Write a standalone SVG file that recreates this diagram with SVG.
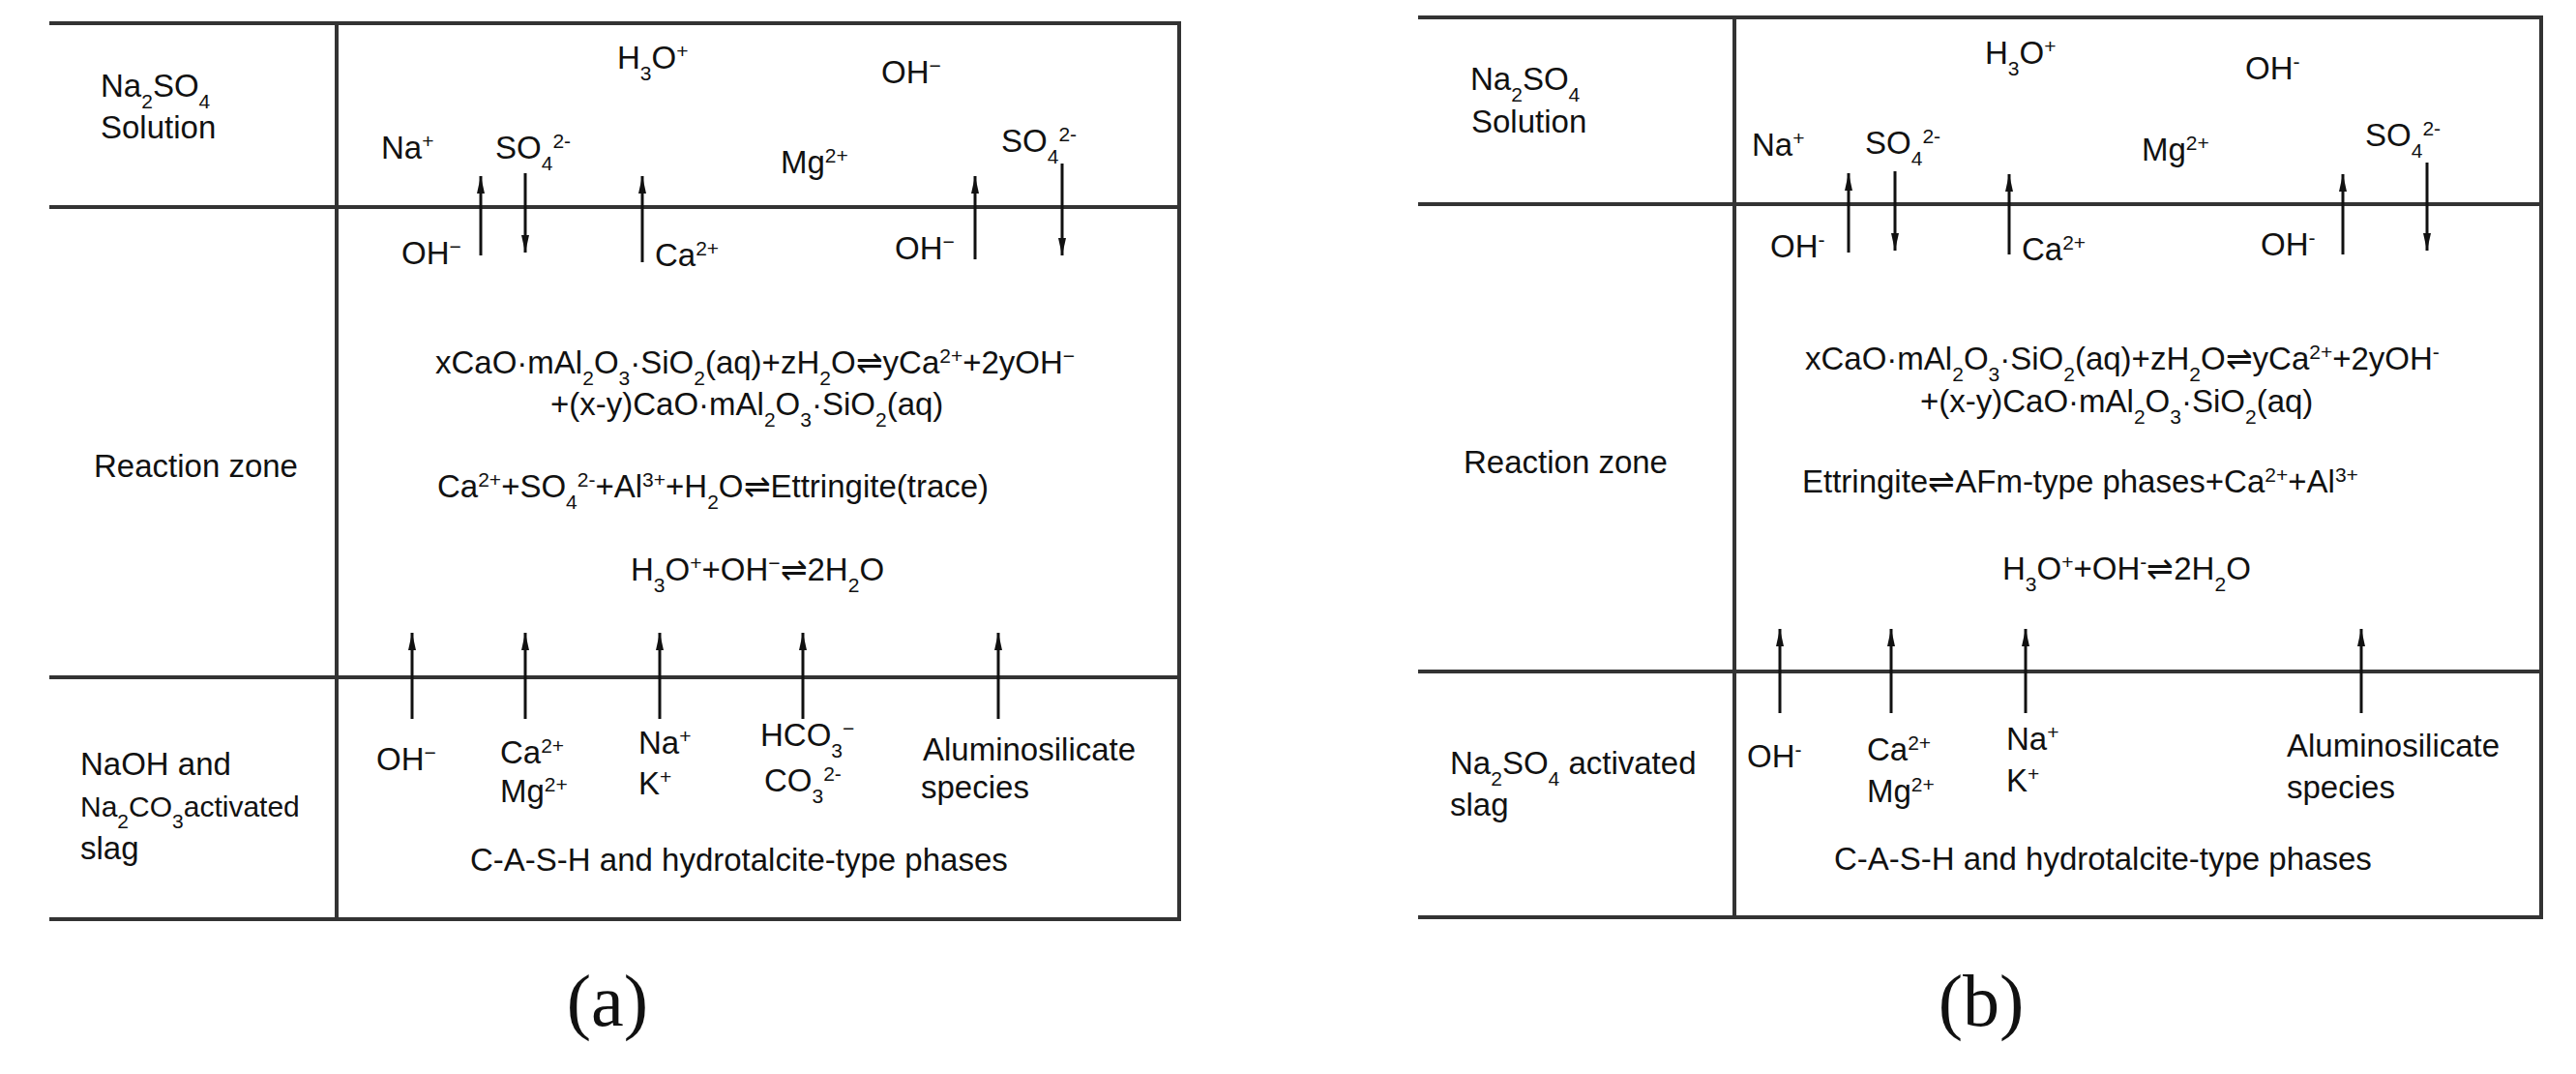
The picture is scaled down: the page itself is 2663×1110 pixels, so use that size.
<svg xmlns="http://www.w3.org/2000/svg" width="2663" height="1110" viewBox="0 0 2663 1110">
<style>
.ln{stroke:#333;stroke-width:4;fill:none}
.ar{stroke:#111;stroke-width:3;fill:none;marker-end:url(#ah)}
text{font-family:"Liberation Sans",Arial,sans-serif;font-size:33px;fill:#111}
.s{font-size:21px;baseline-shift:sub}
.p{font-size:21px;baseline-shift:super}
.cap{font-family:"Liberation Serif","Times New Roman",serif;font-size:76px;text-anchor:middle}
</style>
<defs>
<marker id="ah" viewBox="0 0 18 8" refX="18" refY="4" markerWidth="18" markerHeight="8" orient="auto" markerUnits="userSpaceOnUse"><path d="M0,0 L18,4 L0,8 Z" fill="#111"/></marker>
</defs>
<g id="frame-a">
<path class="ln" d="M51,24 H1219 V950 H51 M348,24 V950 M51,214 H1219 M51,700 H1219"/>
</g>
<g id="frame-b">
<path class="ln" d="M1466,18 H2627 V948 H1466 M1793,18 V948 M1466,211 H2627 M1466,694 H2627"/>
</g>
<g id="connectors">
<line class="ar" x1="497" y1="264" x2="497" y2="182"/>
<line class="ar" x1="543" y1="179" x2="543" y2="261"/>
<line class="ar" x1="664" y1="271" x2="664" y2="182"/>
<line class="ar" x1="1008" y1="268" x2="1008" y2="182"/>
<line class="ar" x1="1098" y1="169" x2="1098" y2="264"/>
<line class="ar" x1="426" y1="743" x2="426" y2="654"/>
<line class="ar" x1="543" y1="743" x2="543" y2="654"/>
<line class="ar" x1="682" y1="743" x2="682" y2="654"/>
<line class="ar" x1="830" y1="743" x2="830" y2="654"/>
<line class="ar" x1="1032" y1="743" x2="1032" y2="654"/>
<line class="ar" x1="1911" y1="261" x2="1911" y2="179"/>
<line class="ar" x1="1959" y1="177" x2="1959" y2="259"/>
<line class="ar" x1="2077" y1="263" x2="2077" y2="180"/>
<line class="ar" x1="2422" y1="263" x2="2422" y2="180"/>
<line class="ar" x1="2509" y1="168" x2="2509" y2="259"/>
<line class="ar" x1="1840" y1="737" x2="1840" y2="650"/>
<line class="ar" x1="1955" y1="737" x2="1955" y2="650"/>
<line class="ar" x1="2094" y1="737" x2="2094" y2="650"/>
<line class="ar" x1="2441" y1="737" x2="2441" y2="650"/>
</g>
<g id="panel-a-text">
<text x="104" y="100">Na<tspan class="s">2</tspan>SO<tspan class="s">4</tspan></text>
<text x="104" y="143">Solution</text>
<text x="638" y="71">H<tspan class="s">3</tspan>O<tspan class="p">+</tspan></text>
<text x="911" y="86">OH<tspan class="p">−</tspan></text>
<text x="394" y="164">Na<tspan class="p">+</tspan></text>
<text x="512" y="164">SO<tspan class="s">4</tspan><tspan class="p">2-</tspan></text>
<text x="807" y="179">Mg<tspan class="p">2+</tspan></text>
<text x="1035" y="157">SO<tspan class="s">4</tspan><tspan class="p">2-</tspan></text>
<text x="415" y="273">OH<tspan class="p">−</tspan></text>
<text x="677" y="275">Ca<tspan class="p">2+</tspan></text>
<text x="925" y="268">OH<tspan class="p">−</tspan></text>
<text x="97" y="493">Reaction zone</text>
<text x="450" y="386">xCaO·mAl<tspan class="s">2</tspan>O<tspan class="s">3</tspan>·SiO<tspan class="s">2</tspan>(aq)+zH<tspan class="s">2</tspan>O⇌yCa<tspan class="p">2+</tspan>+2yOH<tspan class="p">−</tspan></text>
<text x="569" y="429">+(x-y)CaO·mAl<tspan class="s">2</tspan>O<tspan class="s">3</tspan>·SiO<tspan class="s">2</tspan>(aq)</text>
<text x="452" y="514">Ca<tspan class="p">2+</tspan>+SO<tspan class="s">4</tspan><tspan class="p">2-</tspan>+Al<tspan class="p">3+</tspan>+H<tspan class="s">2</tspan>O⇌Ettringite(trace)</text>
<text x="652" y="600">H<tspan class="s">3</tspan>O<tspan class="p">+</tspan>+OH<tspan class="p">−</tspan>⇌2H<tspan class="s">2</tspan>O</text>
<text x="83" y="801">NaOH and</text>
<text x="83" y="844" style="font-size:30px">Na<tspan class="s">2</tspan>CO<tspan class="s">3</tspan>activated</text>
<text x="83" y="888">slag</text>
<text x="389" y="796">OH<tspan class="p">−</tspan></text>
<text x="517" y="789">Ca<tspan class="p">2+</tspan></text>
<text x="517" y="829">Mg<tspan class="p">2+</tspan></text>
<text x="660" y="779">Na<tspan class="p">+</tspan></text>
<text x="660" y="821">K<tspan class="p">+</tspan></text>
<text x="786" y="771">HCO<tspan class="s">3</tspan><tspan class="p">−</tspan></text>
<text x="790" y="818">CO<tspan class="s">3</tspan><tspan class="p">2-</tspan></text>
<text x="954" y="786">Aluminosilicate</text>
<text x="952" y="825">species</text>
<text x="486" y="900">C-A-S-H and hydrotalcite-type phases</text>
<text class="cap" x="628" y="1060">(a)</text>
</g>
<g id="panel-b-text">
<text x="1520" y="93">Na<tspan class="s">2</tspan>SO<tspan class="s">4</tspan></text>
<text x="1521" y="137">Solution</text>
<text x="2052" y="66">H<tspan class="s">3</tspan>O<tspan class="p">+</tspan></text>
<text x="2321" y="82">OH<tspan class="p">-</tspan></text>
<text x="1811" y="161">Na<tspan class="p">+</tspan></text>
<text x="1928" y="159">SO<tspan class="s">4</tspan><tspan class="p">2-</tspan></text>
<text x="2214" y="166">Mg<tspan class="p">2+</tspan></text>
<text x="2445" y="151">SO<tspan class="s">4</tspan><tspan class="p">2-</tspan></text>
<text x="1830" y="266">OH<tspan class="p">-</tspan></text>
<text x="2090" y="269">Ca<tspan class="p">2+</tspan></text>
<text x="2337" y="264">OH<tspan class="p">-</tspan></text>
<text x="1513" y="489">Reaction zone</text>
<text x="1866" y="382">xCaO·mAl<tspan class="s">2</tspan>O<tspan class="s">3</tspan>·SiO<tspan class="s">2</tspan>(aq)+zH<tspan class="s">2</tspan>O⇌yCa<tspan class="p">2+</tspan>+2yOH<tspan class="p">-</tspan></text>
<text x="1985" y="426">+(x-y)CaO·mAl<tspan class="s">2</tspan>O<tspan class="s">3</tspan>·SiO<tspan class="s">2</tspan>(aq)</text>
<text x="1863" y="509">Ettringite⇌AFm-type phases+Ca<tspan class="p">2+</tspan>+Al<tspan class="p">3+</tspan></text>
<text x="2070" y="599">H<tspan class="s">3</tspan>O<tspan class="p">+</tspan>+OH<tspan class="p">-</tspan>⇌2H<tspan class="s">2</tspan>O</text>
<text x="1499" y="800">Na<tspan class="s">2</tspan>SO<tspan class="s">4</tspan> activated</text>
<text x="1499" y="843">slag</text>
<text x="1806" y="793">OH<tspan class="p">-</tspan></text>
<text x="1930" y="786">Ca<tspan class="p">2+</tspan></text>
<text x="1930" y="829">Mg<tspan class="p">2+</tspan></text>
<text x="2074" y="775">Na<tspan class="p">+</tspan></text>
<text x="2074" y="818">K<tspan class="p">+</tspan></text>
<text x="2364" y="782">Aluminosilicate</text>
<text x="2364" y="825">species</text>
<text x="1896" y="899">C-A-S-H and hydrotalcite-type phases</text>
<text class="cap" x="2048" y="1060">(b)</text>
</g>
</svg>
